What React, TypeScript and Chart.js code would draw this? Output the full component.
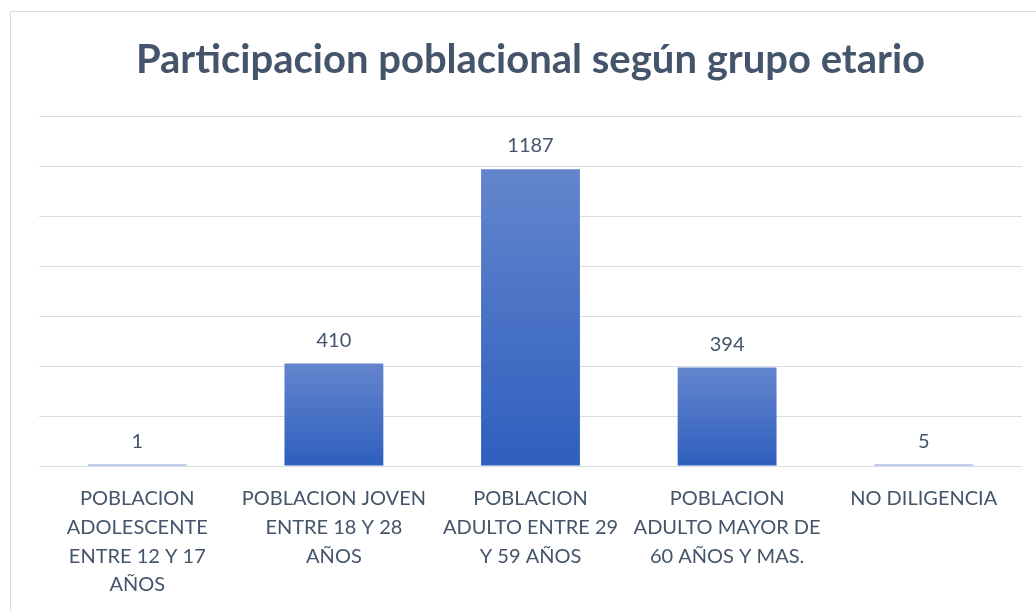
import React, { useEffect, useRef } from "react";
import { Chart, registerables } from "chart.js";

Chart.register(...registerables);

const chartTitle = "Participacion poblacional según grupo etario";
const categories: string[][] = [
  ["POBLACION", "ADOLESCENTE", "ENTRE 12 Y 17", "AÑOS"],
  ["POBLACION JOVEN", "ENTRE 18 Y 28", "AÑOS"],
  ["POBLACION", "ADULTO ENTRE 29", "Y 59 AÑOS"],
  ["POBLACION", "ADULTO MAYOR DE", "60 AÑOS Y MAS."],
  ["NO DILIGENCIA"],
];
const values: number[] = [1, 410, 1187, 394, 5];
const yMin = 0;
const yMax = 1400;
const yStep = 200;

const TEXT = "#44546A";
const GRID = "#D9DDE3";
const FONT = "Lato, 'Open Sans', sans-serif";

const dataLabelPlugin = {
  id: "dataLabels",
  afterDatasetsDraw(chart: any) {
    const ctx = chart.ctx;
    const meta = chart.getDatasetMeta(0);
    ctx.save();
    ctx.font = `20px ${FONT}`;
    ctx.fillStyle = TEXT;
    ctx.textAlign = "center";
    ctx.textBaseline = "alphabetic";
    meta.data.forEach((bar: any, i: number) => {
      ctx.fillText(String(values[i]), bar.x, bar.y - 17);
    });
    ctx.restore();
  },
};

const framePlugin = {
  id: "frame",
  beforeDraw(chart: any) {
    const ctx = chart.ctx;
    ctx.save();
    ctx.fillStyle = "#ffffff";
    ctx.fillRect(0, 0, chart.width, chart.height);
    ctx.strokeStyle = GRID;
    ctx.lineWidth = 1;
    ctx.strokeRect(10.5, 11.5, 3000, 3000);
    ctx.restore();
  },
};

export default function App() {
  const ref = useRef<HTMLCanvasElement | null>(null);

  useEffect(() => {
    if (!ref.current) return;
    const chart = new Chart(ref.current, {
      type: "bar",
      data: {
        labels: categories,
        datasets: [
          {
            data: values,
            categoryPercentage: 1,
            barPercentage: 0.503,
            minBarLength: 1.5,
            backgroundColor: (c: any) => {
              const ch = c.chart;
              if (!ch.chartArea || c.type !== "data") return "#4472C4";
              const ys = ch.scales.y;
              const top = ys.getPixelForValue(values[c.dataIndex]);
              const base = ys.getPixelForValue(0);
              if (base - top < 3) return "#7F9DD8";
              const g = ch.ctx.createLinearGradient(0, top, 0, base);
              g.addColorStop(0, "#6485CD");
              g.addColorStop(1, "#2E5FBE");
              return g;
            },
            borderWidth: 0,
          },
        ],
      },
      options: {
        responsive: false,
        animation: false,
        layout: { padding: { left: 39, right: 14, top: 0, bottom: 0 } },
        plugins: {
          legend: { display: false },
          tooltip: { enabled: false },
          title: {
            display: true,
            text: chartTitle,
            color: TEXT,
            font: { family: FONT, size: 40, weight: "bold", lineHeight: 1.2 },
            padding: { top: 36, bottom: 32 },
          },
        },
        scales: {
          x: {
            grid: { display: false, drawTicks: false },
            border: { display: false },
            ticks: {
              color: TEXT,
              font: { family: FONT, size: 20, lineHeight: 1.435 },
              padding: 18.5,
              maxRotation: 0,
              autoSkip: false,
            },
            afterFit: (scale: any) => {
              scale.height = 145;
            },
          },
          y: {
            min: yMin,
            max: yMax,
            grid: { color: GRID, lineWidth: 1, drawTicks: false },
            border: { display: false },
            ticks: { display: false, stepSize: yStep },
          },
        },
      },
      plugins: [framePlugin, dataLabelPlugin],
    });
    return () => chart.destroy();
  }, []);

  return (
    <div style={{ position: "fixed", left: 0, top: 0, width: 1036, height: 611, overflow: "hidden", background: "#fff" }}>
      <canvas ref={ref} width={1036} height={611} />
    </div>
  );
}
